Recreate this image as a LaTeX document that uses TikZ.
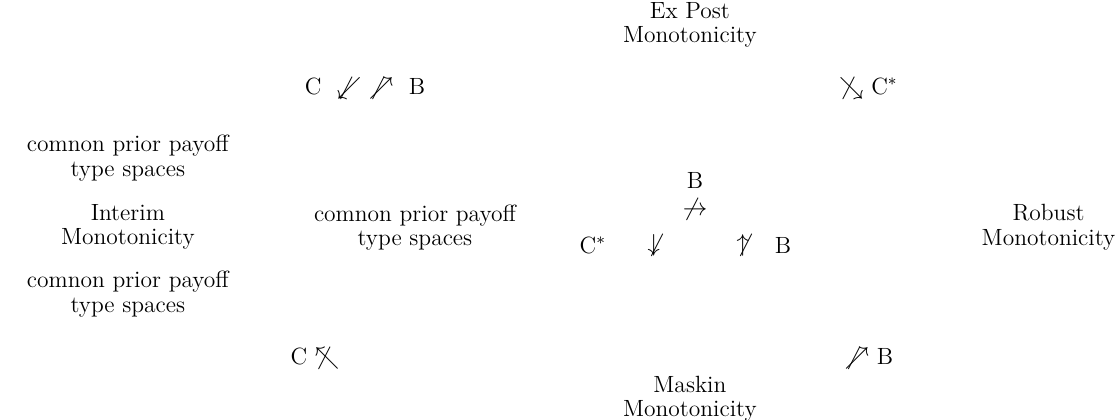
\documentclass[tikz,border=0pt]{standalone}
\usepackage{amsmath}
\usepackage{amssymb}
\usepackage{tikz}
\usetikzlibrary{positioning}

\begin{document}
\begin{tikzpicture}[on grid, inner sep=0pt, font=\fontsize{11.5}{11.8}\selectfont,
    txt/.style={align=center}]
    \useasboundingbox (-2.20,3.91) rectangle (17.07,-3.30);
    % monotonicity notions
    \node[txt] (interim) at (0,0) {Interim\\Monotonicity};
    \node[txt, above right=3.48cm and 9.67cm of interim] (expost) {Ex Post\\Monotonicity};
    \node[txt, below right=2.95cm and 9.67cm of interim] (maskin) {Maskin\\Monotonicity};
    \node[txt, right=15.84cm of interim] (robust) {Robust\\Monotonicity};

    % type space remarks
    \node[txt, above=1.19cm of interim] (priortop) {comnon prior payoff\\type spaces};
    \node[txt, below=1.15cm of interim] (priorbot) {comnon prior payoff\\type spaces};
    \node[txt, right=4.94cm of interim] (priormid) {comnon prior payoff\\type spaces};

    % implications
    \node[above right=2.39cm and 4.08cm of interim] (ilefttop) {C\ \ $\not\swarrow$\ $\not\nearrow$\ \ B};
    \node[below right=2.25cm and 3.22cm of interim] (ileftbot) {C $\not\nwarrow$};
    \node[above right=2.39cm and 12.74cm of interim] (irighttop) {$\not\searrow$ C$^*$};
    \node[below right=2.25cm and 12.75cm of interim] (irightbot) {$\not\nearrow$ B};

    \node[above right=0.81cm and 9.76cm of interim] (midb) {B};
    \node[below=0.50cm of midb] (midarrow) {$\not\rightarrow$};
    \node[below right=0.31cm and 8.00cm of interim] (midc) {C$^*$};
    \node[right=1.05cm of midc] (middown) {$\not\downarrow$};
    \node[right=1.53cm of middown] (midup) {$\not\uparrow$};
    \node[right=0.69cm of midup] (midbb) {B};
\end{tikzpicture}
\end{document}
